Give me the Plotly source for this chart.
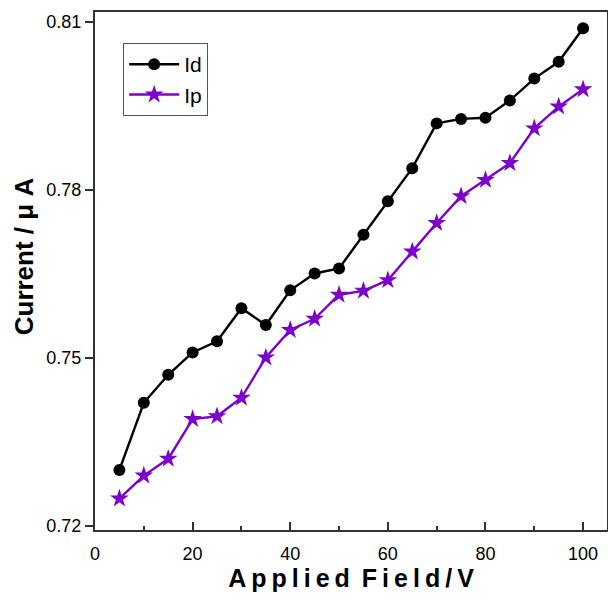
import plotly.graph_objects as go

field = [5, 10, 15, 20, 25, 30, 35, 40, 45, 50, 55, 60, 65, 70, 75, 80, 85, 90, 95, 100]
id_vals = [0.730, 0.742, 0.747, 0.751, 0.753, 0.7589, 0.7559, 0.7621, 0.7651, 0.7660,
           0.7720, 0.7780, 0.7839, 0.7919, 0.7927, 0.7929, 0.7960, 0.7999, 0.8029, 0.8089]
ip_vals = [0.7249, 0.7290, 0.7320, 0.7391, 0.7396, 0.7429, 0.7501, 0.7550, 0.7570, 0.7613,
           0.7620, 0.7639, 0.7690, 0.7741, 0.7789, 0.7818, 0.7848, 0.7910, 0.7949, 0.7980]
y_ticks = [0.72, 0.75, 0.78, 0.81]
x_ticks = [0, 20, 40, 60, 80, 100]

PURPLE = "#7B00CC"
AX = "#333333"

fig = go.Figure()
fig.add_trace(go.Scatter(x=field, y=id_vals, name="Id", mode="lines+markers",
                         line=dict(color="black", width=2.4),
                         marker=dict(symbol="circle", size=12, color="black")))
fig.add_trace(go.Scatter(x=field, y=ip_vals, name="Ip", mode="lines+markers",
                         line=dict(color=PURPLE, width=2.4),
                         marker=dict(symbol="star", size=14, color=PURPLE)))

T = "\u2009"
xtitle = T.join("Applied") + " " + T + T.join("Field/V")
ytitle = "\u00a0" * 4 + "Current / \u03bc A"

fig.update_layout(
    width=608, height=601,
    margin=dict(l=95, r=1, t=12, b=71),
    paper_bgcolor="white", plot_bgcolor="white",
    font=dict(family="Liberation Sans, Arial, sans-serif", color="black"),
    showlegend=True,
    legend=dict(x=0.055, y=0.94, xanchor="left", yanchor="top",
                bgcolor="white", bordercolor="#555555", borderwidth=1,
                font=dict(size=21), itemwidth=50,
                ),
    xaxis=dict(range=[0, 104.9], tickvals=x_ticks, ticks="inside", ticklen=8, tickwidth=2,
               tickcolor=AX, showline=True, linecolor=AX, linewidth=2, mirror=True,
               showgrid=False, zeroline=False, tickfont=dict(size=18), automargin=False,
               minor=dict(dtick=10, ticks="inside", ticklen=4, tickwidth=2, tickcolor=AX, showgrid=False),
               ticklabelstandoff=6,
               title=dict(text="<b>" + xtitle + "</b>", font=dict(size=25), standoff=5)),
    yaxis=dict(range=[0.71929, 0.81179], tickvals=y_ticks, ticktext=["0.72", "0.75", "0.78", "0.81"],
               ticks="outside", ticklen=8, tickwidth=2, tickcolor=AX, automargin=False,
               showline=True, linecolor=AX, linewidth=2, mirror=True,
               showgrid=False, zeroline=False, tickfont=dict(size=18),
               title=dict(text="<b>" + ytitle + "</b>", font=dict(size=26), standoff=5)),
)

fig.write_html("out.html", config={"displayModeBar": False},
               post_script="document.body.style.margin='0';")
